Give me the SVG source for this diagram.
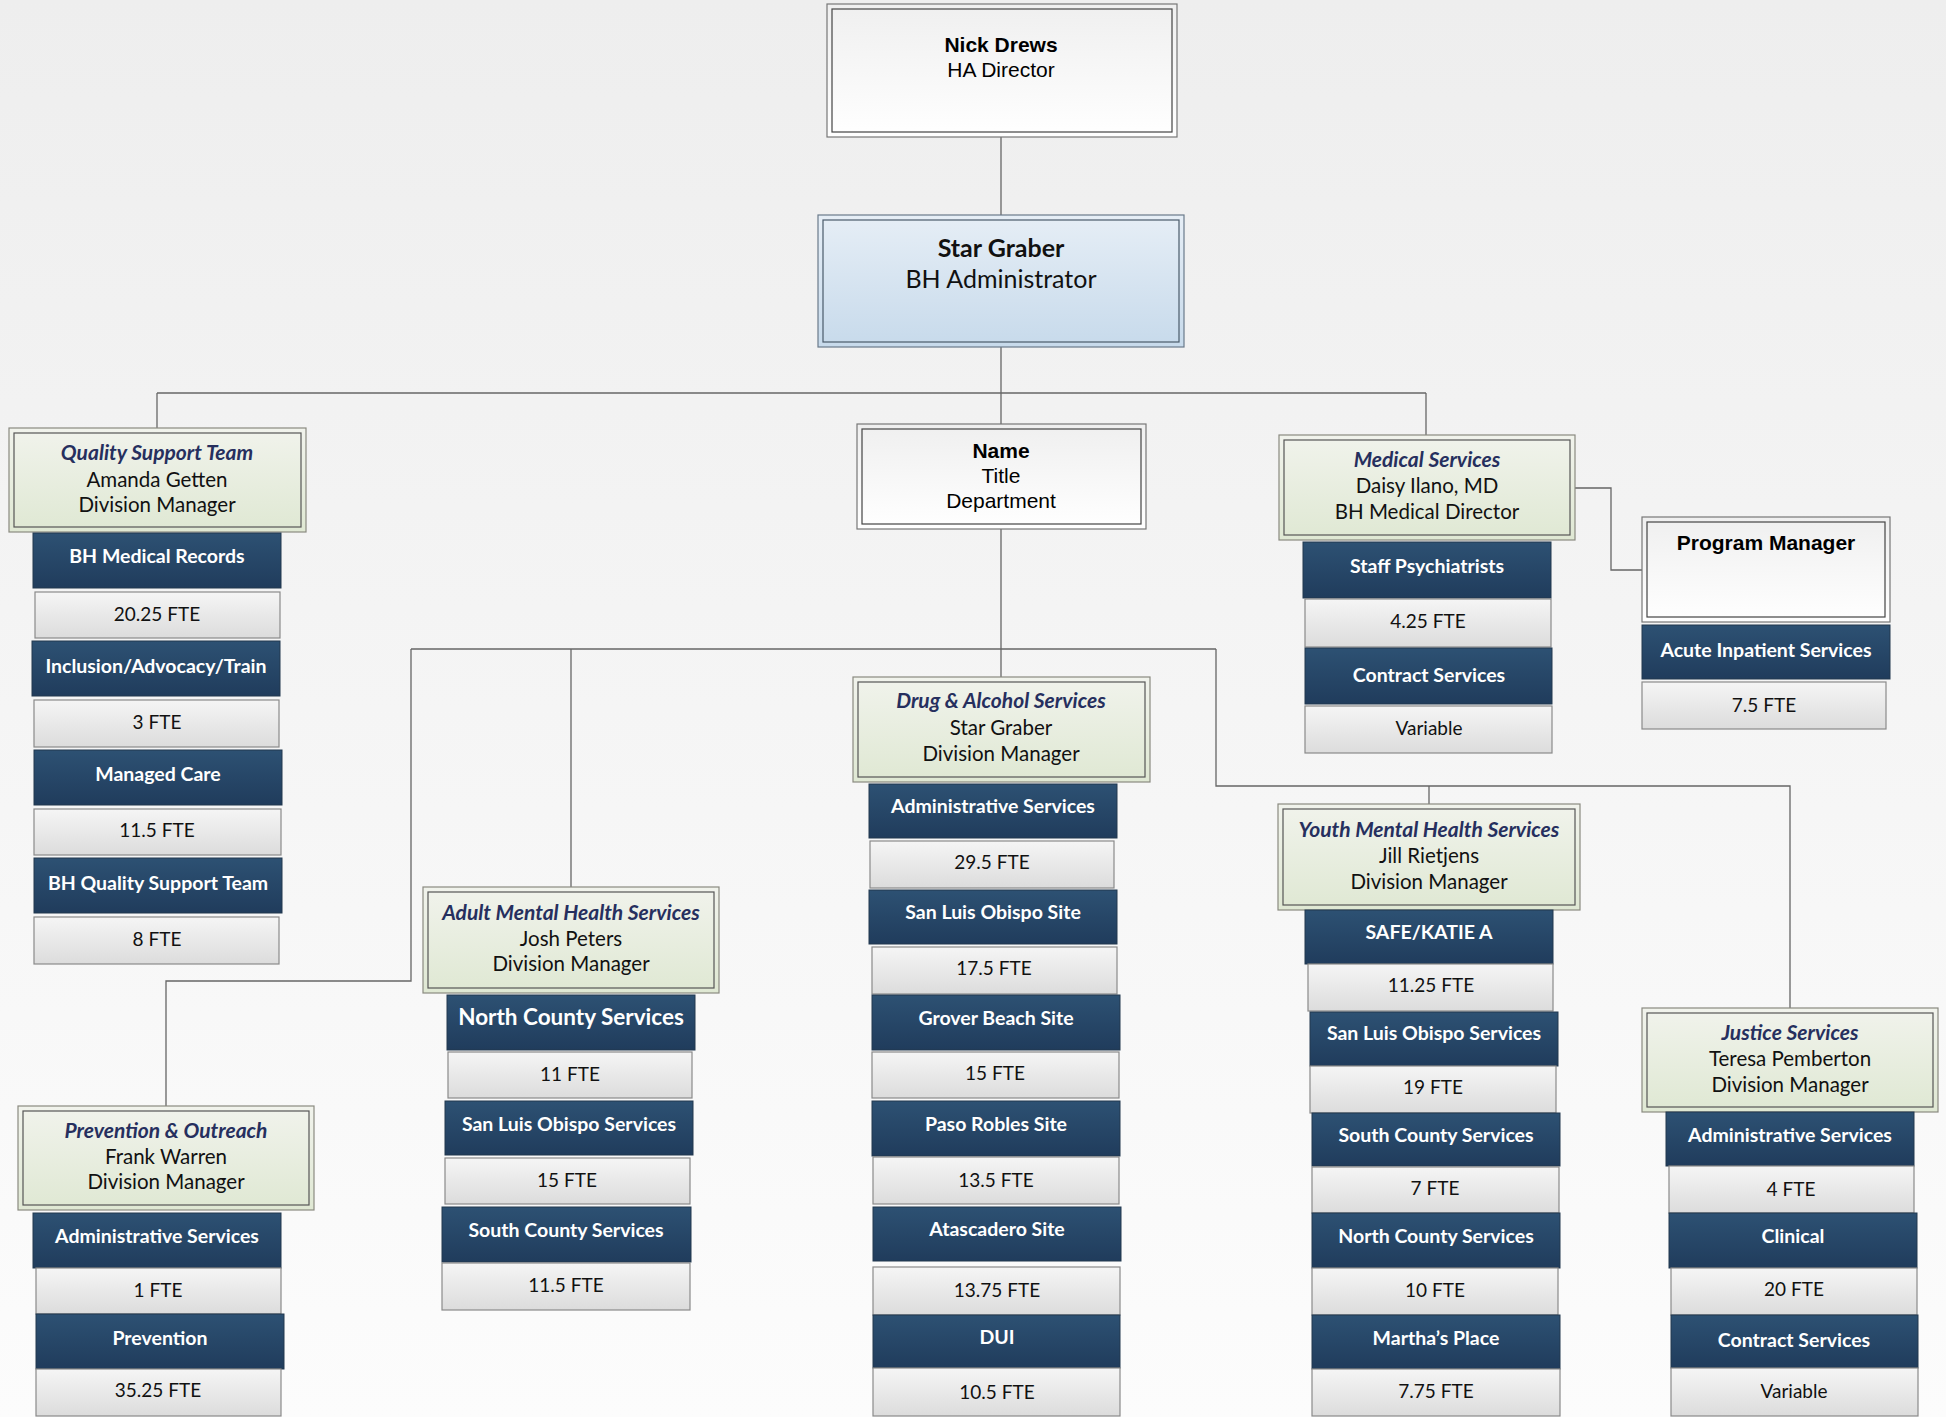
<svg xmlns="http://www.w3.org/2000/svg" width="1946" height="1417" viewBox="0 0 1946 1417">
<defs>
<linearGradient id="bg" x1="0" y1="0" x2="0" y2="1"><stop offset="0" stop-color="#eeeeee"/><stop offset="1" stop-color="#fcfcfc"/></linearGradient>
<linearGradient id="gDark" x1="0" y1="0" x2="0" y2="1"><stop offset="0" stop-color="#2d5173"/><stop offset="1" stop-color="#203c5c"/></linearGradient>
<linearGradient id="gLight" x1="0" y1="0" x2="0" y2="1"><stop offset="0" stop-color="#f5f5f5"/><stop offset="1" stop-color="#dcdcdc"/></linearGradient>
<linearGradient id="gDiv" x1="0" y1="0" x2="0" y2="1"><stop offset="0" stop-color="#f1f3ec"/><stop offset="1" stop-color="#dfe8d3"/></linearGradient>
<linearGradient id="gWhite" x1="0" y1="0" x2="0" y2="1"><stop offset="0" stop-color="#efefef"/><stop offset="1" stop-color="#ffffff"/></linearGradient>
<linearGradient id="gBlue" x1="0" y1="0" x2="0" y2="1"><stop offset="0" stop-color="#e6eef6"/><stop offset="1" stop-color="#c7daeb"/></linearGradient>
</defs>
<style>
.dk{fill:url(#gDark);stroke:#22384f;stroke-width:1}
.lt{fill:url(#gLight);stroke:#8a8a8a;stroke-width:1.2}
.dvo{fill:url(#gDiv);stroke:#8a8a80;stroke-width:1.2}
.dvi{fill:none;stroke:#555;stroke-width:1.2}
.wo{fill:url(#gWhite);stroke:#777;stroke-width:1.2}
.wi{fill:none;stroke:#444;stroke-width:1.2}
.dt{font-family:Lato,"Open Sans",sans-serif;font-weight:bold;font-size:19.5px;fill:#fff;text-anchor:middle}
.ft{font-family:Lato,"Open Sans",sans-serif;font-size:19px;fill:#111;text-anchor:middle}
.dh{font-family:Lato,"Open Sans",sans-serif;font-weight:bold;font-style:italic;font-size:21px;fill:#262f5e;text-anchor:middle}
.dn{font-family:Lato,"Open Sans",sans-serif;font-size:20.5px;fill:#111;text-anchor:middle}
.ar{font-family:"Liberation Sans",Arial,sans-serif;font-size:21px;fill:#000;text-anchor:middle}
.arb{font-family:"Liberation Sans",Arial,sans-serif;font-size:21px;font-weight:bold;fill:#000;text-anchor:middle}
.conn{fill:none;stroke:#666;stroke-width:1.3}
</style>
<rect x="0" y="0" width="1946" height="1417" fill="url(#bg)"/>
<g id="connectors" class="conn">
<path d="M1001 137V215"/>
<path d="M1001 347V426"/>
<path d="M157 393H1426"/>
<path d="M157 393V428"/>
<path d="M1426 393V435"/>
<path d="M1001 529V677"/>
<path d="M411 649H1216"/>
<path d="M411 649V981H166V1106"/>
<path d="M571 649V887"/>
<path d="M1216 649V786H1790V1008"/>
<path d="M1429 786V804"/>
<path d="M1575 488H1611V570H1642"/>
</g>
<g id="nick-drews">
<rect class="wo" x="827" y="4" width="350" height="133"/><rect class="wi" x="832" y="9" width="340" height="123"/>
<text class="arb" x="1001" y="52">Nick Drews</text><text class="ar" x="1001" y="77">HA Director</text>
</g>
<g id="star-graber">
<rect fill="url(#gBlue)" stroke="#6a7a8a" stroke-width="1.2" x="818" y="215" width="366" height="132"/><rect fill="none" stroke="#4a5a6a" stroke-width="1.2" x="823" y="220" width="356" height="122"/>
<text x="1001" y="257" style="font-family:Lato,sans-serif;font-weight:bold;font-size:25px;fill:#111;text-anchor:middle">Star Graber</text>
<text x="1001" y="288" style="font-family:Lato,sans-serif;font-size:25px;fill:#111;text-anchor:middle">BH Administrator</text>
</g>
<g id="name-box">
<rect class="wo" x="857" y="424" width="289" height="105"/><rect class="wi" x="862" y="429" width="279" height="95"/>
<text class="arb" x="1001" y="458">Name</text><text class="ar" x="1001" y="483">Title</text><text class="ar" x="1001" y="508">Department</text>
</g>
<g id="quality-support">
<rect class="dvo" x="9" y="428" width="297" height="104"/><rect class="dvi" x="14" y="433" width="287" height="94"/>
<text class="dh" x="157" y="460">Quality Support Team</text><text class="dn" x="157" y="487">Amanda Getten</text><text class="dn" x="157" y="512">Division Manager</text>
<rect class="dk" x="33" y="533" width="248" height="55"/><text class="dt" x="157" y="563">BH Medical Records</text>
<rect class="lt" x="35" y="592" width="245" height="46"/><text class="ft" x="157" y="621">20.25 FTE</text>
<rect class="dk" x="32" y="641" width="248" height="55"/><text class="dt" x="156" y="673">Inclusion/Advocacy/Train</text>
<rect class="lt" x="34" y="700" width="245" height="47"/><text class="ft" x="157" y="729">3 FTE</text>
<rect class="dk" x="34" y="750" width="248" height="55"/><text class="dt" x="158" y="781">Managed Care</text>
<rect class="lt" x="34" y="809" width="247" height="46"/><text class="ft" x="157" y="837">11.5 FTE</text>
<rect class="dk" x="34" y="858" width="248" height="55"/><text class="dt" x="158" y="890">BH Quality Support Team</text>
<rect class="lt" x="34" y="917" width="245" height="47"/><text class="ft" x="157" y="946">8 FTE</text>
</g>
<g id="prevention-outreach">
<rect class="dvo" x="18" y="1106" width="296" height="104"/><rect class="dvi" x="23" y="1111" width="286" height="94"/>
<text class="dh" x="166" y="1138">Prevention &amp; Outreach</text><text class="dn" x="166" y="1164">Frank Warren</text><text class="dn" x="166" y="1189">Division Manager</text>
<rect class="dk" x="33" y="1213" width="248" height="55"/><text class="dt" x="157" y="1243">Administrative Services</text>
<rect class="lt" x="36" y="1268" width="245" height="46"/><text class="ft" x="158" y="1297">1 FTE</text>
<rect class="dk" x="36" y="1314" width="248" height="55"/><text class="dt" x="160" y="1345">Prevention</text>
<rect class="lt" x="36" y="1369" width="245" height="47"/><text class="ft" x="158" y="1397">35.25 FTE</text>
</g>
<g id="adult-mental-health">
<rect class="dvo" x="423" y="887" width="296" height="106"/><rect class="dvi" x="428" y="892" width="286" height="96"/>
<text class="dh" x="571" y="920">Adult Mental Health Services</text><text class="dn" x="571" y="946">Josh Peters</text><text class="dn" x="571" y="971">Division Manager</text>
<rect class="dk" x="447" y="995" width="248" height="55"/><text class="dt" x="571" y="1025" style="font-size:22.5px">North County Services</text>
<rect class="lt" x="448" y="1052" width="244" height="46"/><text class="ft" x="570" y="1081">11 FTE</text>
<rect class="dk" x="445" y="1101" width="248" height="54"/><text class="dt" x="569" y="1131">San Luis Obispo Services</text>
<rect class="lt" x="445" y="1158" width="245" height="46"/><text class="ft" x="567" y="1187">15 FTE</text>
<rect class="dk" x="442" y="1207" width="249" height="55"/><text class="dt" x="566" y="1237">South County Services</text>
<rect class="lt" x="442" y="1263" width="248" height="47"/><text class="ft" x="566" y="1292">11.5 FTE</text>
</g>
<g id="drug-alcohol">
<rect class="dvo" x="853" y="677" width="297" height="105"/><rect class="dvi" x="858" y="682" width="287" height="95"/>
<text class="dh" x="1001" y="708">Drug &amp; Alcohol Services</text><text class="dn" x="1001" y="735">Star Graber</text><text class="dn" x="1001" y="761">Division Manager</text>
<rect class="dk" x="869" y="784" width="248" height="54"/><text class="dt" x="993" y="813">Administrative Services</text>
<rect class="lt" x="870" y="841" width="244" height="47"/><text class="ft" x="992" y="869">29.5 FTE</text>
<rect class="dk" x="869" y="890" width="248" height="54"/><text class="dt" x="993" y="919">San Luis Obispo Site</text>
<rect class="lt" x="872" y="947" width="245" height="47"/><text class="ft" x="994" y="975">17.5 FTE</text>
<rect class="dk" x="872" y="995" width="248" height="55"/><text class="dt" x="996" y="1025">Grover Beach Site</text>
<rect class="lt" x="872" y="1052" width="247" height="46"/><text class="ft" x="995" y="1080">15 FTE</text>
<rect class="dk" x="872" y="1101" width="248" height="55"/><text class="dt" x="996" y="1131">Paso Robles Site</text>
<rect class="lt" x="873" y="1157" width="246" height="47"/><text class="ft" x="996" y="1187">13.5 FTE</text>
<rect class="dk" x="873" y="1207" width="248" height="54"/><text class="dt" x="997" y="1236">Atascadero Site</text>
<rect class="lt" x="873" y="1267" width="247" height="48"/><text class="ft" x="997" y="1297">13.75 FTE</text>
<rect class="dk" x="873" y="1315" width="247" height="53"/><text class="dt" x="997" y="1344">DUI</text>
<rect class="lt" x="873" y="1368" width="247" height="48"/><text class="ft" x="997" y="1399">10.5 FTE</text>
</g>
<g id="medical-services">
<rect class="dvo" x="1279" y="435" width="296" height="105"/><rect class="dvi" x="1284" y="440" width="286" height="95"/>
<text class="dh" x="1427" y="467">Medical Services</text><text class="dn" x="1427" y="493">Daisy Ilano, MD</text><text class="dn" x="1427" y="519">BH Medical Director</text>
<rect class="dk" x="1303" y="542" width="248" height="56"/><text class="dt" x="1427" y="573">Staff Psychiatrists</text>
<rect class="lt" x="1305" y="599" width="246" height="48"/><text class="ft" x="1428" y="628">4.25 FTE</text>
<rect class="dk" x="1305" y="648" width="247" height="56"/><text class="dt" x="1429" y="682">Contract Services</text>
<rect class="lt" x="1305" y="706" width="247" height="47"/><text class="ft" x="1429" y="735">Variable</text>
</g>
<g id="program-manager">
<rect class="wo" x="1642" y="517" width="248" height="105"/><rect class="wi" fill="url(#gWhite)" x="1647" y="522" width="238" height="95"/>
<text class="arb" x="1766" y="550">Program Manager</text>
<rect class="dk" x="1642" y="625" width="248" height="54"/><text class="dt" x="1766" y="657">Acute Inpatient Services</text>
<rect class="lt" x="1642" y="682" width="244" height="47"/><text class="ft" x="1764" y="712">7.5 FTE</text>
</g>
<g id="youth-mental-health">
<rect class="dvo" x="1278" y="804" width="302" height="106"/><rect class="dvi" x="1283" y="809" width="292" height="96"/>
<text class="dh" x="1429" y="837">Youth Mental Health Services</text><text class="dn" x="1429" y="863">Jill Rietjens</text><text class="dn" x="1429" y="889">Division Manager</text>
<rect class="dk" x="1305" y="910" width="248" height="54"/><text class="dt" x="1429" y="939">SAFE/KATIE A</text>
<rect class="lt" x="1308" y="964" width="245" height="47"/><text class="ft" x="1431" y="992">11.25 FTE</text>
<rect class="dk" x="1310" y="1012" width="248" height="54"/><text class="dt" x="1434" y="1040">San Luis Obispo Services</text>
<rect class="lt" x="1310" y="1066" width="246" height="47"/><text class="ft" x="1433" y="1094">19 FTE</text>
<rect class="dk" x="1312" y="1113" width="248" height="53"/><text class="dt" x="1436" y="1142">South County Services</text>
<rect class="lt" x="1312" y="1167" width="247" height="46"/><text class="ft" x="1435" y="1195">7 FTE</text>
<rect class="dk" x="1312" y="1213" width="248" height="55"/><text class="dt" x="1436" y="1243">North County Services</text>
<rect class="lt" x="1312" y="1268" width="246" height="47"/><text class="ft" x="1435" y="1297">10 FTE</text>
<rect class="dk" x="1312" y="1315" width="248" height="54"/><text class="dt" x="1436" y="1345">Martha’s Place</text>
<rect class="lt" x="1312" y="1369" width="248" height="47"/><text class="ft" x="1436" y="1398">7.75 FTE</text>
</g>
<g id="justice-services">
<rect class="dvo" x="1642" y="1008" width="296" height="104"/><rect class="dvi" x="1647" y="1013" width="286" height="94"/>
<text class="dh" x="1790" y="1040">Justice Services</text><text class="dn" x="1790" y="1066">Teresa Pemberton</text><text class="dn" x="1790" y="1092">Division Manager</text>
<rect class="dk" x="1666" y="1112" width="248" height="54"/><text class="dt" x="1790" y="1142">Administrative Services</text>
<rect class="lt" x="1669" y="1166" width="245" height="47"/><text class="ft" x="1791" y="1196">4 FTE</text>
<rect class="dk" x="1669" y="1213" width="248" height="55"/><text class="dt" x="1793" y="1243">Clinical</text>
<rect class="lt" x="1671" y="1268" width="246" height="47"/><text class="ft" x="1794" y="1296">20 FTE</text>
<rect class="dk" x="1671" y="1315" width="247" height="53"/><text class="dt" x="1794" y="1347">Contract Services</text>
<rect class="lt" x="1671" y="1368" width="247" height="48"/><text class="ft" x="1794" y="1398">Variable</text>
</g>
</svg>
